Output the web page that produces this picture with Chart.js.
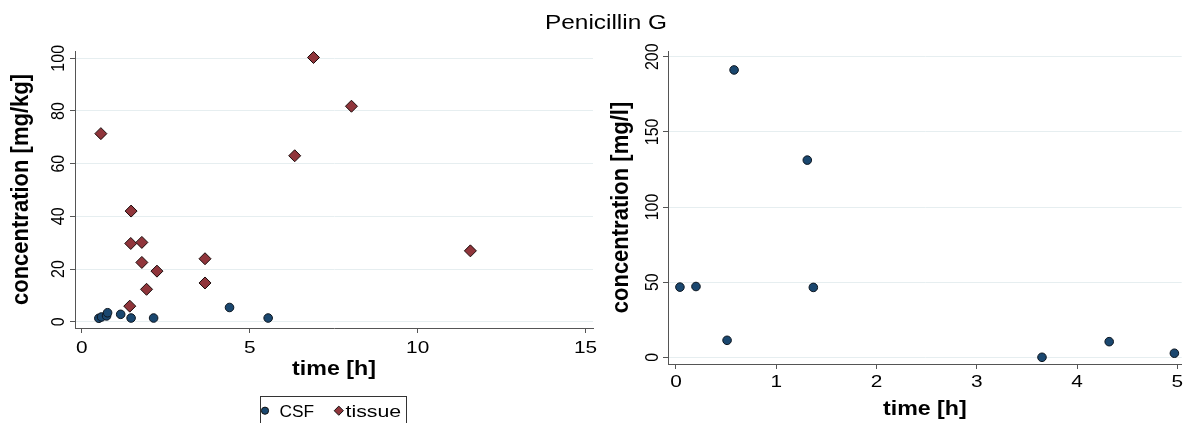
<!DOCTYPE html>
<html>
<head>
<meta charset="utf-8">
<script src="https://cdn.jsdelivr.net/npm/chart.js@4/dist/chart.umd.min.js"></script>
<style>
  html, body { margin: 0; padding: 0; background: #fff; }
  #wrap { position: relative; width: 1187px; height: 423px; overflow: hidden; }
  canvas { position: absolute; top: 0; }
  #title {
    position: absolute; left: 606px; top: 11px;
    font: 20px "Liberation Sans", Arial, sans-serif; color: #000;
    transform: translateX(-50%) scaleX(1.22); white-space: nowrap; line-height: 23px;
  }
</style>
</head>
<body>
<div id="wrap">
  <canvas id="left" width="600" height="423" style="left:0"></canvas>
  <canvas id="right" width="587" height="423" style="left:600px"></canvas>
  <div id="title">Penicillin G</div>
</div>
<script>
// Penicillin G: tissue and CSF concentrations over time
const csfTimeA = [0.51, 0.59, 0.74, 0.77, 1.16, 1.47, 2.14, 4.40, 5.55];
const csfConcA = [1.3, 1.8, 2.2, 3.4, 2.8, 1.4, 1.4, 5.4, 1.4];
const tissueTime = [0.57, 1.43, 1.46, 1.47, 1.79, 1.79, 1.93, 2.24, 3.67, 3.67, 6.34, 6.90, 8.03, 11.57];
const tissueConc = [71.4, 5.9, 29.7, 42.0, 30.1, 22.5, 12.3, 19.2, 23.9, 14.7, 63.0, 100.3, 81.8, 26.9];
const csfTimeB = [0.04, 0.20, 0.51, 0.58, 1.31, 1.37, 3.65, 4.32, 4.97];
const csfConcB = [46.7, 47.1, 11.3, 191.2, 131.2, 46.5, 0, 10.4, 2.7];

const leftXTicks = [0, 5, 10, 15];
const leftYTicks = [0, 20, 40, 60, 80, 100];
const rightXTicks = [0, 1, 2, 3, 4, 5];
const rightYTicks = [0, 50, 100, 150, 200];

const NAVY = '#1a476f';
const MAROON = '#90353b';
const FAMILY = '"Liberation Sans", Arial, sans-serif';

function pts(xs, ys) { return xs.map((x, i) => ({ x: x, y: ys[i] })); }

// draw text with an optional horizontal stretch and rotation
function txt(ctx, s, x, y, o) {
  ctx.save();
  ctx.translate(x, y);
  ctx.scale(o.sx || 1, 1);
  if (o.rot) ctx.rotate(o.rot);
  ctx.font = o.font;
  ctx.fillStyle = '#000';
  ctx.textAlign = o.align || 'center';
  ctx.textBaseline = o.base || 'alphabetic';
  ctx.fillText(s, 0, 0);
  ctx.restore();
}

function fixedTicks(list) {
  return function (scale) { scale.ticks = list.map(v => ({ value: v })); };
}

// axis labels drawn from the scales
function axisTextPlugin(cfg) {
  return {
    id: 'axisText',
    afterDraw(chart) {
      const ctx = chart.ctx;
      const xs = chart.scales.x, ys = chart.scales.y, a = chart.chartArea;
      const tickFont = '16px ' + FAMILY;
      xs.ticks.forEach(t => {
        txt(ctx, String(t.value), xs.getPixelForValue(t.value), cfg.xTickBase, { font: tickFont, sx: 1.3 });
      });
      ys.ticks.forEach(t => {
        txt(ctx, String(t.value), cfg.yTickBase, ys.getPixelForValue(t.value), { font: tickFont, sx: 1.12, rot: -Math.PI / 2 });
      });
      txt(ctx, cfg.xTitle, (a.left + a.right) / 2, cfg.xTitleBase, { font: 'bold 20px ' + FAMILY, sx: 1.16 });
      txt(ctx, cfg.yTitle, cfg.yTitleBase, (a.top + a.bottom) / 2, { font: 'bold 22px ' + FAMILY, sx: 1.1, rot: -Math.PI / 2 });
    }
  };
}

// framed legend under the left panel
const legendBox = {
  id: 'legendBox',
  afterDraw(chart) {
    const ctx = chart.ctx;
    const ds = chart.data.datasets;
    ctx.save();
    ctx.strokeStyle = '#333';
    ctx.lineWidth = 1;
    ctx.strokeRect(260.5, 396.5, 146, 40);
    const cy = 410.7;
    // circle
    ctx.beginPath();
    ctx.arc(265, cy, 3.6, 0, Math.PI * 2);
    ctx.fillStyle = ds[0].backgroundColor; ctx.fill();
    ctx.strokeStyle = '#111'; ctx.stroke();
    txt(ctx, ds[0].label, 279.5, 416.5, { font: '16px ' + FAMILY, sx: 1.08, align: 'left' });
    // diamond
    const dx = 338.8, r = 4.6;
    ctx.beginPath();
    ctx.moveTo(dx, cy - r); ctx.lineTo(dx + r, cy); ctx.lineTo(dx, cy + r); ctx.lineTo(dx - r, cy); ctx.closePath();
    ctx.fillStyle = ds[1].backgroundColor; ctx.fill();
    ctx.strokeStyle = '#111'; ctx.stroke();
    txt(ctx, ds[1].label, 345.5, 416.5, { font: '16px ' + FAMILY, sx: 1.33, align: 'left' });
    ctx.restore();
  }
};

function axisCommon(min, max, ticks, fit) {
  return {
    type: 'linear', min: min, max: max,
    afterBuildTicks: fixedTicks(ticks),
    afterFit: fit,
    ticks: { display: false },
    border: { color: '#555', width: 1 },
    grid: { color: '#e6eef0', lineWidth: 1, tickColor: '#555', tickLength: 5, drawTicks: true }
  };
}

const circleSet = (label, data) => ({
  label: label, data: data, pointStyle: 'circle', pointRadius: 4.3,
  backgroundColor: NAVY, borderColor: '#0d1620', borderWidth: 1, order: 1
});

new Chart(document.getElementById('left'), {
  type: 'scatter',
  data: {
    datasets: [
      circleSet('CSF', pts(csfTimeA, csfConcA)),
      { label: 'tissue', data: pts(tissueTime, tissueConc), pointStyle: 'rectRot', pointRadius: 6,
        backgroundColor: MAROON, borderColor: '#1a0a0a', borderWidth: 1, order: 0 }
    ]
  },
  options: {
    responsive: false, animation: false, devicePixelRatio: 1,
    layout: { padding: { top: 51, right: 6, left: 0, bottom: 0 } },
    plugins: { legend: { display: false }, tooltip: { enabled: false } },
    scales: {
      x: Object.assign(axisCommon(-0.2, 15.22, leftXTicks, s => { s.height = 95; }),
        { grid: { drawOnChartArea: false, tickColor: '#555', tickLength: 5 } }),
      y: axisCommon(-2.39, 102.77, leftYTicks, s => { s.width = 75; })
    }
  },
  plugins: [axisTextPlugin({ xTickBase: 352.5, yTickBase: 63.5, xTitle: 'time [h]', xTitleBase: 375,
    yTitle: 'concentration [mg/kg]', yTitleBase: 28.3 }), legendBox]
});

new Chart(document.getElementById('right'), {
  type: 'scatter',
  data: { datasets: [circleSet('CSF', pts(csfTimeB, csfConcB))] },
  options: {
    responsive: false, animation: false, devicePixelRatio: 1,
    layout: { padding: { top: 51, right: 3, left: 0, bottom: 0 } },
    plugins: { legend: { display: false }, tooltip: { enabled: false } },
    scales: {
      x: Object.assign(axisCommon(-0.079, 5.043, rightXTicks, s => { s.height = 59; }),
        { grid: { drawOnChartArea: false, tickColor: '#555', tickLength: 5 } }),
      y: axisCommon(-4.46, 203.8, rightYTicks, s => { s.width = 68; })
    }
  },
  plugins: [axisTextPlugin({ xTickBase: 387, yTickBase: 58, xTitle: 'time [h]', xTitleBase: 414.5,
    yTitle: 'concentration [mg/l]', yTitleBase: 28.3 })]
});
</script>
</body>
</html>
